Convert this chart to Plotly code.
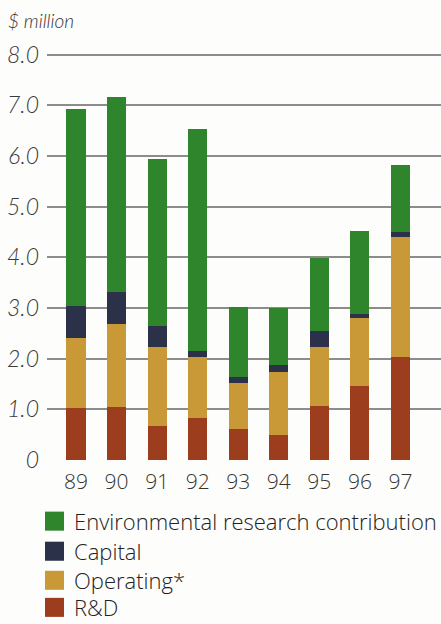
import plotly.graph_objects as go

# Fiscal years and spending by category ($ million)
years = ["89", "90", "91", "92", "93", "94", "95", "96", "97"]
rnd = [1.03, 1.05, 0.68, 0.83, 0.62, 0.49, 1.07, 1.46, 2.03]
operating = [1.37, 1.63, 1.54, 1.21, 0.90, 1.24, 1.15, 1.35, 2.36]
capital = [0.63, 0.64, 0.42, 0.11, 0.12, 0.14, 0.32, 0.08, 0.10]
env_research = [3.89, 3.85, 3.30, 4.39, 1.37, 1.12, 1.45, 1.62, 1.33]

y_ticks = [0, 1, 2, 3, 4, 5, 6, 7, 8]
y_tick_labels = ["0", "1.0", "2.0", "3.0", "4.0", "5.0", "6.0", "7.0", "8.0"]

# stacking order bottom -> top
series = [
    ("R&D", rnd, "#9c3d1e"),
    ("Operating*", operating, "#c99837"),
    ("Capital", capital, "#2a3148"),
    ("Environmental research contribution", env_research, "#2f852b"),
]

x_pos = list(range(len(years)))

Y_MAX = 8.03
fig = go.Figure()
for name, vals, color in series:
    fig.add_trace(go.Bar(
        x=x_pos, y=vals, name=name, width=0.47,
        marker=dict(color=color, line=dict(width=0)),
        showlegend=False,
    ))

# hand-drawn legend: top series first
legend_font = dict(family="Open Sans", size=22, color="#222222", weight=300)
row_y = [521, 551, 580, 607]
H = 624
PLOT_H = 406
B = 164
for (name, _, color), ry in zip(series[::-1], row_y):
    fig.add_shape(type="rect", xref="paper", yref="paper",
                  x0=(45 - 47) / 394, x1=(64 - 47) / 394,
                  y0=(H - ry - 9.5 - B) / PLOT_H, y1=(H - ry + 9.5 - B) / PLOT_H,
                  fillcolor=color, line=dict(width=0))
    fig.add_annotation(text=name, xref="paper", yref="paper",
                       x=(72 - 47) / 394, y=(H - ry - B) / PLOT_H,
                       xanchor="left", yanchor="middle", showarrow=False,
                       font=legend_font)

fig.add_annotation(text="$ million", xref="paper", yref="paper",
                   x=(6 - 47) / 394, y=(H - 22 - B) / PLOT_H,
                   xanchor="left", yanchor="middle", showarrow=False,
                   font=dict(family="Lato", size=19, style="italic",
                             weight=300, color="#333333"))

fig.update_layout(
    barmode="stack",
    width=441, height=624,
    margin=dict(l=47, r=0, t=53, b=B),
    paper_bgcolor="#fdfdfb", plot_bgcolor="#fdfdfb",
    xaxis=dict(range=[-0.715, 9.0], tickvals=x_pos, ticktext=years,
               showgrid=False, zeroline=False, showline=False,
               tickfont=dict(family="Open Sans", size=21, color="#333333", weight=300),
               ticklabelstandoff=7),
    yaxis=dict(range=[0, Y_MAX], tickvals=y_ticks, ticktext=y_tick_labels,
               showgrid=True, gridcolor="#8c8c8c", gridwidth=1.5,
               zeroline=False, showline=False,
               tickfont=dict(family="Lato", size=23, style="italic", weight=300,
                             color="#3a3a3a"),
               ticklabelstandoff=7),
)

fig.write_html("out.html")
